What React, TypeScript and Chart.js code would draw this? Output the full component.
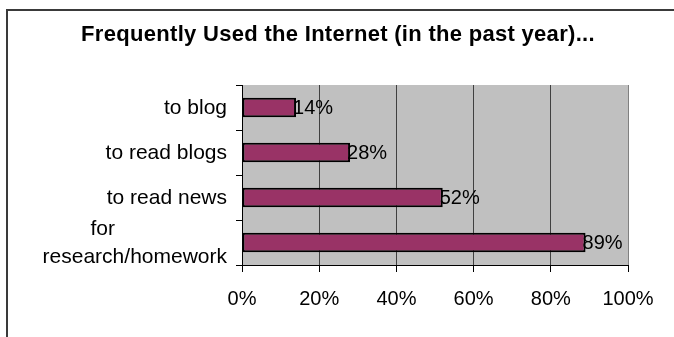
import React, { useEffect, useRef } from "react";
import { Chart, registerables } from "chart.js";

Chart.register(...registerables);

const titleText = "Frequently Used the Internet (in the past year)...";
const categories: (string | string[])[] = [
  "to blog",
  "to read blogs",
  "to read news",
  ["for", "research/homework"],
];
const values = [14, 28, 52, 89];
const xTicks = [0, 20, 40, 60, 80, 100];

const FONT = "'Liberation Sans', Arial, Helvetica, sans-serif";

const framePlugin = {
  id: "frame",
  beforeDraw(chart: any) {
    const { ctx, chartArea } = chart;
    ctx.save();
    ctx.fillStyle = "#ffffff";
    ctx.fillRect(0, 0, chart.width, chart.height);
    ctx.fillStyle = "#3a3a3a";
    ctx.fillRect(6, 9, 2, chart.height - 9);
    ctx.fillRect(6, 9, chart.width - 6, 2);
    ctx.fillStyle = "#c0c0c0";
    ctx.fillRect(
      chartArea.left,
      chartArea.top,
      chartArea.right - chartArea.left,
      chartArea.bottom - chartArea.top
    );
    ctx.restore();
  },
};

const titlePlugin = {
  id: "customTitle",
  afterDraw(chart: any) {
    const { ctx } = chart;
    ctx.save();
    ctx.font = `bold 22px ${FONT}`;
    (ctx as any).letterSpacing = "0.3px";
    ctx.fillStyle = "#000";
    ctx.textAlign = "center";
    ctx.textBaseline = "middle";
    ctx.fillText(titleText, 338, 35);
    ctx.restore();
  },
};

const valueLabelPlugin = {
  id: "valueLabels",
  afterDatasetsDraw(chart: any) {
    const { ctx } = chart;
    const meta = chart.getDatasetMeta(0);
    ctx.save();
    ctx.font = `20px ${FONT}`;
    ctx.fillStyle = "#000";
    ctx.textAlign = "left";
    ctx.textBaseline = "middle";
    meta.data.forEach((el: any, i: number) => {
      ctx.fillText(values[i] + "%", el.x - 3, el.y + 1);
    });
    ctx.restore();
  },
};

const categoryLabelPlugin = {
  id: "categoryLabels",
  afterDraw(chart: any) {
    const { ctx, chartArea } = chart;
    const yScale = chart.scales.y;
    const right = chartArea.left - 15;
    const lineH = 28;
    ctx.save();
    ctx.font = `21px ${FONT}`;
    ctx.fillStyle = "#000";
    ctx.textBaseline = "middle";
    categories.forEach((lab, i) => {
      const y = yScale.getPixelForValue(i);
      const lines = Array.isArray(lab) ? lab : [lab];
      const y0 = y - ((lines.length - 1) * lineH) / 2;
      if (lines.length === 1) {
        ctx.textAlign = "right";
        ctx.fillText(lines[0], right, y0 + 1);
      } else {
        const widths = lines.map((l) => ctx.measureText(l).width);
        const maxW = Math.max(...widths);
        const leftEdge = right - maxW;
        lines.forEach((l, j) => {
          ctx.textAlign = "left";
          const x = j === 0 ? leftEdge + maxW * 0.26 : leftEdge;
          ctx.fillText(l, x, y0 + j * lineH + 1);
        });
      }
    });
    ctx.restore();
  },
};

export default function App() {
  const ref = useRef<HTMLCanvasElement | null>(null);

  useEffect(() => {
    if (!ref.current) return;
    const chart = new Chart(ref.current, {
      type: "bar",
      data: {
        labels: categories as any,
        datasets: [
          {
            data: values,
            backgroundColor: "#993366",
            borderColor: "#000000",
            borderWidth: 2,
            borderSkipped: false,
            barPercentage: 0.43,
            categoryPercentage: 1,
          },
        ],
      },
      options: {
        indexAxis: "y",
        animation: false,
        responsive: false,
        devicePixelRatio: 1,
        layout: { padding: { left: 0, right: 46, top: 85, bottom: 0 } },
        plugins: {
          legend: { display: false },
          tooltip: { enabled: false },
          title: { display: false },
        },
        scales: {
          x: {
            type: "linear",
            min: 0,
            max: 100,
            afterBuildTicks: (scale: any) => {
              scale.ticks = xTicks.map((v) => ({ value: v }));
            },
            afterFit: (scale: any) => {
              scale.height = 72;
            },
            ticks: {
              color: "#000",
              font: { family: FONT, size: 20 },
              padding: 15,
              callback: (v: any) => v + "%",
            },
            grid: {
              color: (c: any) => (c.index === xTicks.length - 1 ? "#808080" : "#404040"),
              tickColor: "#000",
              tickLength: 7,
              lineWidth: 1,
            },
            border: { display: true, color: "#000", width: 1 },
          },
          y: {
            type: "category",
            afterFit: (scale: any) => {
              scale.width = 242;
            },
            ticks: { display: false },
            grid: {
              offset: true,
              drawOnChartArea: false,
              drawTicks: true,
              tickLength: 6,
              color: "#000",
            },
            border: { display: true, color: "#000", width: 1 },
          },
        },
      } as any,
      plugins: [framePlugin, valueLabelPlugin, categoryLabelPlugin, titlePlugin],
    });
    return () => chart.destroy();
  }, []);

  return (
    <div style={{ position: "absolute", left: 0, top: 0, width: 674, height: 337 }}>
      <canvas ref={ref} width={674} height={337} style={{ display: "block" }} />
    </div>
  );
}
